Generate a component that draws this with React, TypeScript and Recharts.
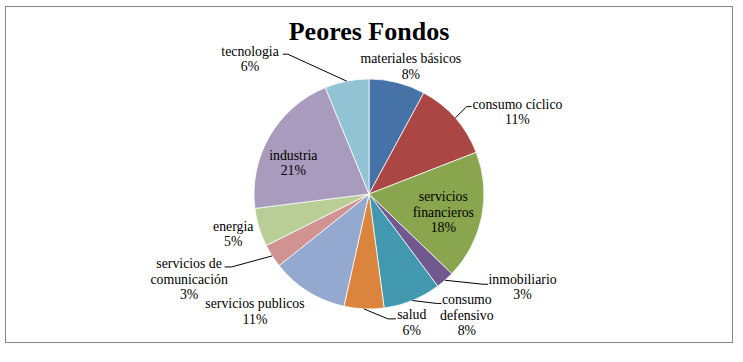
import React from 'react';
import { PieChart, Pie, Cell } from 'recharts';

const CATEGORIES = [
  'materiales básicos',
  'consumo cíclico',
  'servicios financieros',
  'inmobiliario',
  'consumo defensivo',
  'salud',
  'servicios publicos',
  'servicios de comunicación',
  'energia',
  'industria',
  'tecnologia',
];
const SHARES = [7.9, 11.2, 18.1, 2.6, 8.1, 5.6, 10.8, 3.3, 5.4, 20.8, 6.2];
const COLORS = [
  '#4572A7', '#AA4643', '#89A54E', '#71588F', '#4198AF', '#DB843D',
  '#93A9CF', '#D19392', '#B9CD96', '#A99BBD', '#92C3D4',
];

// label block offset from the slice's outer edge point, optional leader line
const LABEL_LAYOUT = [
  { dx: 13.6, dy: -15.9 },
  { dx: 62.2, dy: -5.8, line: [11.4, -11.3, 5] },
  { dx: -38.4, dy: -4.5, split: true },
  { dx: 77.5, dy: 6.9, line: [38, 4, 5] },
  { dx: 54.5, dy: 14.6, split: true, line: [25, 3, 4] },
  { dx: 47.8, dy: 13.6, line: [24, 10, 8] },
  { dx: -53, dy: 20 },
  { dx: -83, dy: 23.3, split: true, line: [-40.5, 11, -7] },
  { dx: -25.7, dy: 6.4 },
  { dx: 23.7, dy: 26.8 },
  { dx: -96.7, dy: -22.3, line: [-59, -27, -5] },
];

const RADIAN = Math.PI / 180;
const TOTAL = SHARES.reduce((a, b) => a + b, 0);
const data = CATEGORIES.map((name, i) => ({ name, value: SHARES[i] }));

const LINE_H = 15.5;

const renderLabel = (props: any) => {
  const { cx, cy, midAngle, outerRadius, index } = props;
  const layout = LABEL_LAYOUT[index];
  const ex = cx + outerRadius * Math.cos(-midAngle * RADIAN);
  const ey = cy + outerRadius * Math.sin(-midAngle * RADIAN);
  const name = CATEGORIES[index];
  const cut = name.lastIndexOf(' ');
  const lines = layout.split ? [name.slice(0, cut), name.slice(cut + 1)] : [name];
  lines.push(`${Math.round((SHARES[index] / TOTAL) * 100)}%`);
  const x = ex + layout.dx;
  const y = ey + layout.dy;
  let path = null;
  if (layout.line) {
    const [bx, by, tail] = layout.line;
    path = (
      <polyline
        points={`${ex},${ey} ${ex + bx},${ey + by} ${ex + bx + tail},${ey + by}`}
        fill="none"
        stroke="#000"
        strokeWidth={1}
      />
    );
  }
  return (
    <g key={`lbl-${index}`}>
      {path}
      {lines.map((t, i) => (
        <text
          key={i}
          x={x}
          y={y + (i - (lines.length - 1) / 2) * LINE_H}
          textAnchor="middle"
          dominantBaseline="central"
          fontFamily="'Liberation Serif', serif"
          fontSize={13.8}
          fill="#000"
        >
          {t}
        </text>
      ))}
    </g>
  );
};

const App: React.FC = () => {
  return (
    <div style={{ position: 'absolute', left: 0, top: 0, width: 743, height: 362, background: '#fff' }}>
      <div
        style={{
          position: 'absolute',
          left: 5,
          top: 6,
          width: 728,
          height: 337,
          border: '1px solid #868686',
          boxSizing: 'border-box',
        }}
      />
      <div
        style={{
          position: 'absolute',
          left: 0,
          top: 15,
          width: 738,
          textAlign: 'center',
          fontFamily: "'Liberation Serif', serif",
          fontWeight: 'bold',
          fontSize: 26,
          lineHeight: '34px',
          color: '#000',
        }}
      >
        Peores Fondos
      </div>
      <div style={{ position: 'absolute', left: 0, top: 0 }}>
        <PieChart width={743} height={362} margin={{ top: 0, right: 0, bottom: 0, left: 0 }}>
          <Pie
            data={data}
            dataKey="value"
            nameKey="name"
            cx={369}
            cy={194}
            outerRadius={115}
            startAngle={90}
            endAngle={-270}
            stroke="#ffffff"
            strokeWidth={0.75}
            label={renderLabel}
            labelLine={false}
            isAnimationActive={false}
          >
            {data.map((_, i) => (
              <Cell key={`cell-${i}`} fill={COLORS[i]} />
            ))}
          </Pie>
        </PieChart>
      </div>
    </div>
  );
};

export default App;
